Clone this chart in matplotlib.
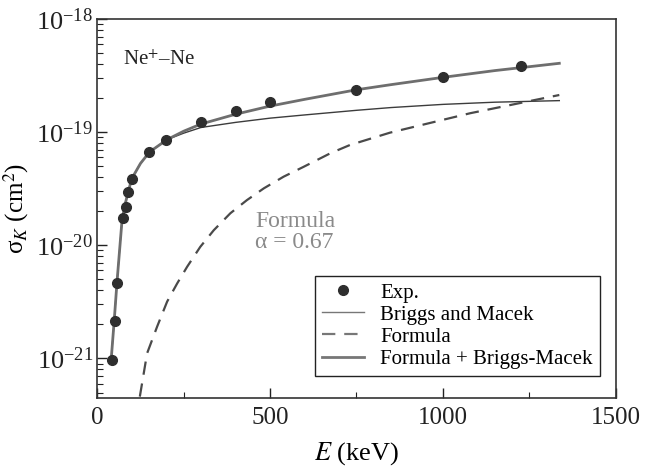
import numpy as np
import matplotlib
matplotlib.use('Agg')
from matplotlib import pyplot as plt

plt.rcParams['font.family'] = ['Liberation Serif', 'DejaVu Serif']
plt.rcParams['mathtext.fontset'] = 'stix'

# experimental points (keV, cm^2)
exp_E = [42, 51, 56, 74, 82, 89, 100, 150, 200, 300, 400, 500, 750, 1000, 1225]
exp_sigma = [9.6e-22, 2.14e-21, 4.68e-21, 1.74e-20, 2.2e-20, 2.95e-20, 3.83e-20,
             6.64e-20, 8.53e-20, 1.23e-19, 1.53e-19, 1.85e-19, 2.36e-19, 3.09e-19, 3.82e-19]

# Briggs and Macek
bm_E = [40, 49, 57, 71.5, 81, 91, 100, 125, 151.5, 202, 250, 300, 400, 500, 600,
        750, 850, 1000, 1150, 1337]
bm_sigma = [9.7e-22, 2.19e-21, 4.77e-21, 1.67e-20, 2.35e-20, 3.1e-20, 3.9e-20, 5.3e-20,
            6.7e-20, 8.6e-20, 9.8e-20, 1.1e-19, 1.22e-19, 1.33e-19, 1.42e-19,
            1.56e-19, 1.65e-19, 1.76e-19, 1.84e-19, 1.9e-19]

# Formula + Briggs-Macek
sum_E = bm_E
sum_sigma = [9.7e-22, 2.19e-21, 4.77e-21, 1.67e-20, 2.35e-20, 3.1e-20, 3.9e-20, 5.3e-20,
             6.7e-20, 8.6e-20, 1.02e-19, 1.18e-19, 1.44e-19, 1.7e-19, 1.95e-19,
             2.37e-19, 2.63e-19, 3.05e-19, 3.5e-19, 4.06e-19]

# Formula, alpha = 0.67
f_E = [123, 144, 173, 202, 231, 260, 298, 337, 385, 433, 482, 539, 597, 674, 731,
       847, 1079, 1337]
f_sigma = [4.6e-22, 1.11e-21, 1.91e-21, 3.18e-21, 4.6e-21, 6.47e-21, 9.7e-21, 1.36e-20,
           1.92e-20, 2.51e-20, 3.19e-20, 4.04e-20, 4.94e-20, 6.5e-20, 7.7e-20,
           9.9e-20, 1.47e-19, 2.13e-19]

fig = plt.figure(figsize=(6.55, 4.73), dpi=100)
ax = fig.add_axes([0.1486, 0.1592, 0.7913, 0.8006])

ax.plot(exp_E, exp_sigma, 'o', color='#2e2e2e', markersize=7, label='Exp.', zorder=4)
ax.plot(bm_E, bm_sigma, '-', color='#3c3c3c', lw=1.0, label='Briggs and Macek', zorder=2)
ax.plot(f_E, f_sigma, '--', color='#4a4a4a', lw=1.6, dashes=(6, 4), label='Formula', zorder=2)
ax.plot(sum_E, sum_sigma, '-', color='#6e6e6e', lw=2.0, label='Formula + Briggs-Macek', zorder=3)

ax.set_yscale('log')
ax.set_xlim(0, 1500)
ax.set_ylim(4.5e-22, 1e-18)
ax.set_xticks([0, 500, 1000, 1500])
ax.set_xticks([250, 750, 1250], minor=True)

ax.tick_params(which='both', direction='in', colors='#222222')
ax.tick_params(axis='x', labelsize=18, pad=7)
ax.tick_params(axis='y', labelsize=19, pad=3)
ax.tick_params(which='major', length=7, width=1)
ax.tick_params(which='minor', length=4, width=0.8)
for s in ax.spines.values():
    s.set_color('#333333')
    s.set_linewidth(1.2)

ax.set_xlabel('$E$ (keV)', fontsize=19, labelpad=8)
ax.set_ylabel('σ$_K$ (cm$^2$)', fontsize=18, labelpad=4)

ax.text(0.05, 0.878, 'Ne$^{+}$–Ne', transform=ax.transAxes, fontsize=15,
        va='baseline', color='#222222')
ax.text(0.304, 0.451, 'Formula', transform=ax.transAxes, fontsize=17,
        va='baseline', color='#8a8a8a')
ax.text(0.304, 0.395, 'α = 0.67', transform=ax.transAxes, fontsize=17,
        va='baseline', color='#8a8a8a')

leg = ax.legend(loc='lower right', bbox_to_anchor=(0.97, 0.057), borderaxespad=0,
                fontsize=15, numpoints=1, handlelength=2.0, handletextpad=0.8,
                labelspacing=0.12, fancybox=False, framealpha=1, edgecolor='#222222',
                borderpad=0.35)
leg.get_frame().set_linewidth(1.0)
for h in leg.get_lines()[1:]:
    h.set_color('#777777')

fig.savefig('out.png', dpi=100)
